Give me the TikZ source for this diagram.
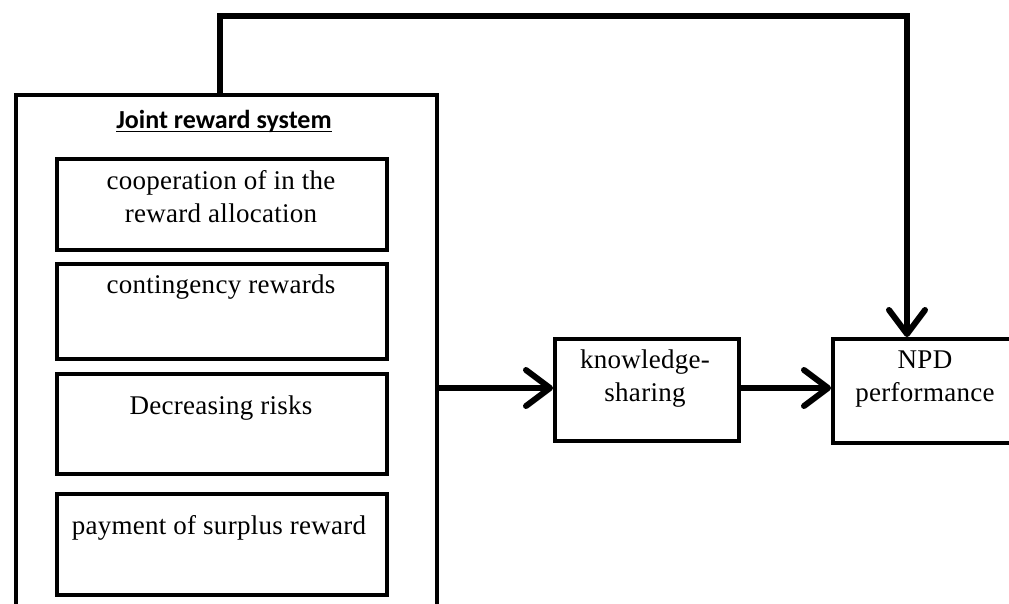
\documentclass[tikz,border=0pt]{standalone}
\usepackage{fontspec}
\setmainfont{Liberation Serif}
\newfontfamily\boxfont[LetterSpace=1]{Liberation Serif}
\newfontfamily\titlefont{Carlito}
\usetikzlibrary{arrows.meta}
\tikzset{
  box/.style={draw=black, line width=3.5pt, rectangle, inner sep=0pt, anchor=north west},
  txt/.style={inner sep=0pt, align=center, font=\boxfont\fontsize{27}{33}\selectfont},
  conn/.style={draw=black, line width=6pt, line cap=round, line join=miter},
  arr/.style={conn, -{Straight Barb[length=24pt, width=36pt, round]}}
}
\begin{document}
\begin{tikzpicture}[x=1pt, y=-1pt]
\clip (0,0) rectangle (1009,603);
\fill[white] (0,0) rectangle (1009,603);
% outer box
\node[box, minimum width=421pt, minimum height=540pt] (outer) at (14,93) {};
\node[anchor=base, inner sep=0pt, font=\titlefont\bfseries\fontsize{26}{30}\selectfont] (title) at (224,128) {Joint reward system};
\draw[line width=1.6pt] ([yshift=-3.5pt]title.base west) -- ([yshift=-3.5pt]title.base east);
% inner boxes
\node[box, minimum width=330pt, minimum height=91pt] (b1) at (55,157) {};
\node[box, minimum width=330pt, minimum height=95pt] (b2) at (55,262) {};
\node[box, minimum width=330pt, minimum height=100pt] (b3) at (55,372) {};
\node[box, minimum width=330pt, minimum height=101pt] (b4) at (55,492) {};
\node[txt] (t1) at (221,197) {cooperation of in the\\reward allocation};
\node[txt] (t2) at (221,287) {contingency rewards};
\node[txt] (t3) at (221,408) {Decreasing risks};
\node[txt] (t4) at (219,528) {payment of surplus reward};
% right boxes
\node[box, minimum width=184pt, minimum height=102pt] (ks) at (553,337) {};
\node[txt] (tks) at (645,379) {knowledge-\\sharing};
\node[box, minimum width=188pt, minimum height=104pt] (npd) at (831,337) {};
\node[txt] (tnpd) at (925,379) {NPD\\performance};
% connectors
\coordinate (c1) at (220,16);
\coordinate (c2) at (907,16);
\draw[arr] (outer.north -| c1) -- (c1) -- (c2) -- (c2 |- npd.north);
\draw[arr] (outer.east |- 0,388) -- (ks.west |- 0,388);
\draw[arr] (ks.east |- 0,388) -- (npd.west |- 0,388);
\end{tikzpicture}
\end{document}
